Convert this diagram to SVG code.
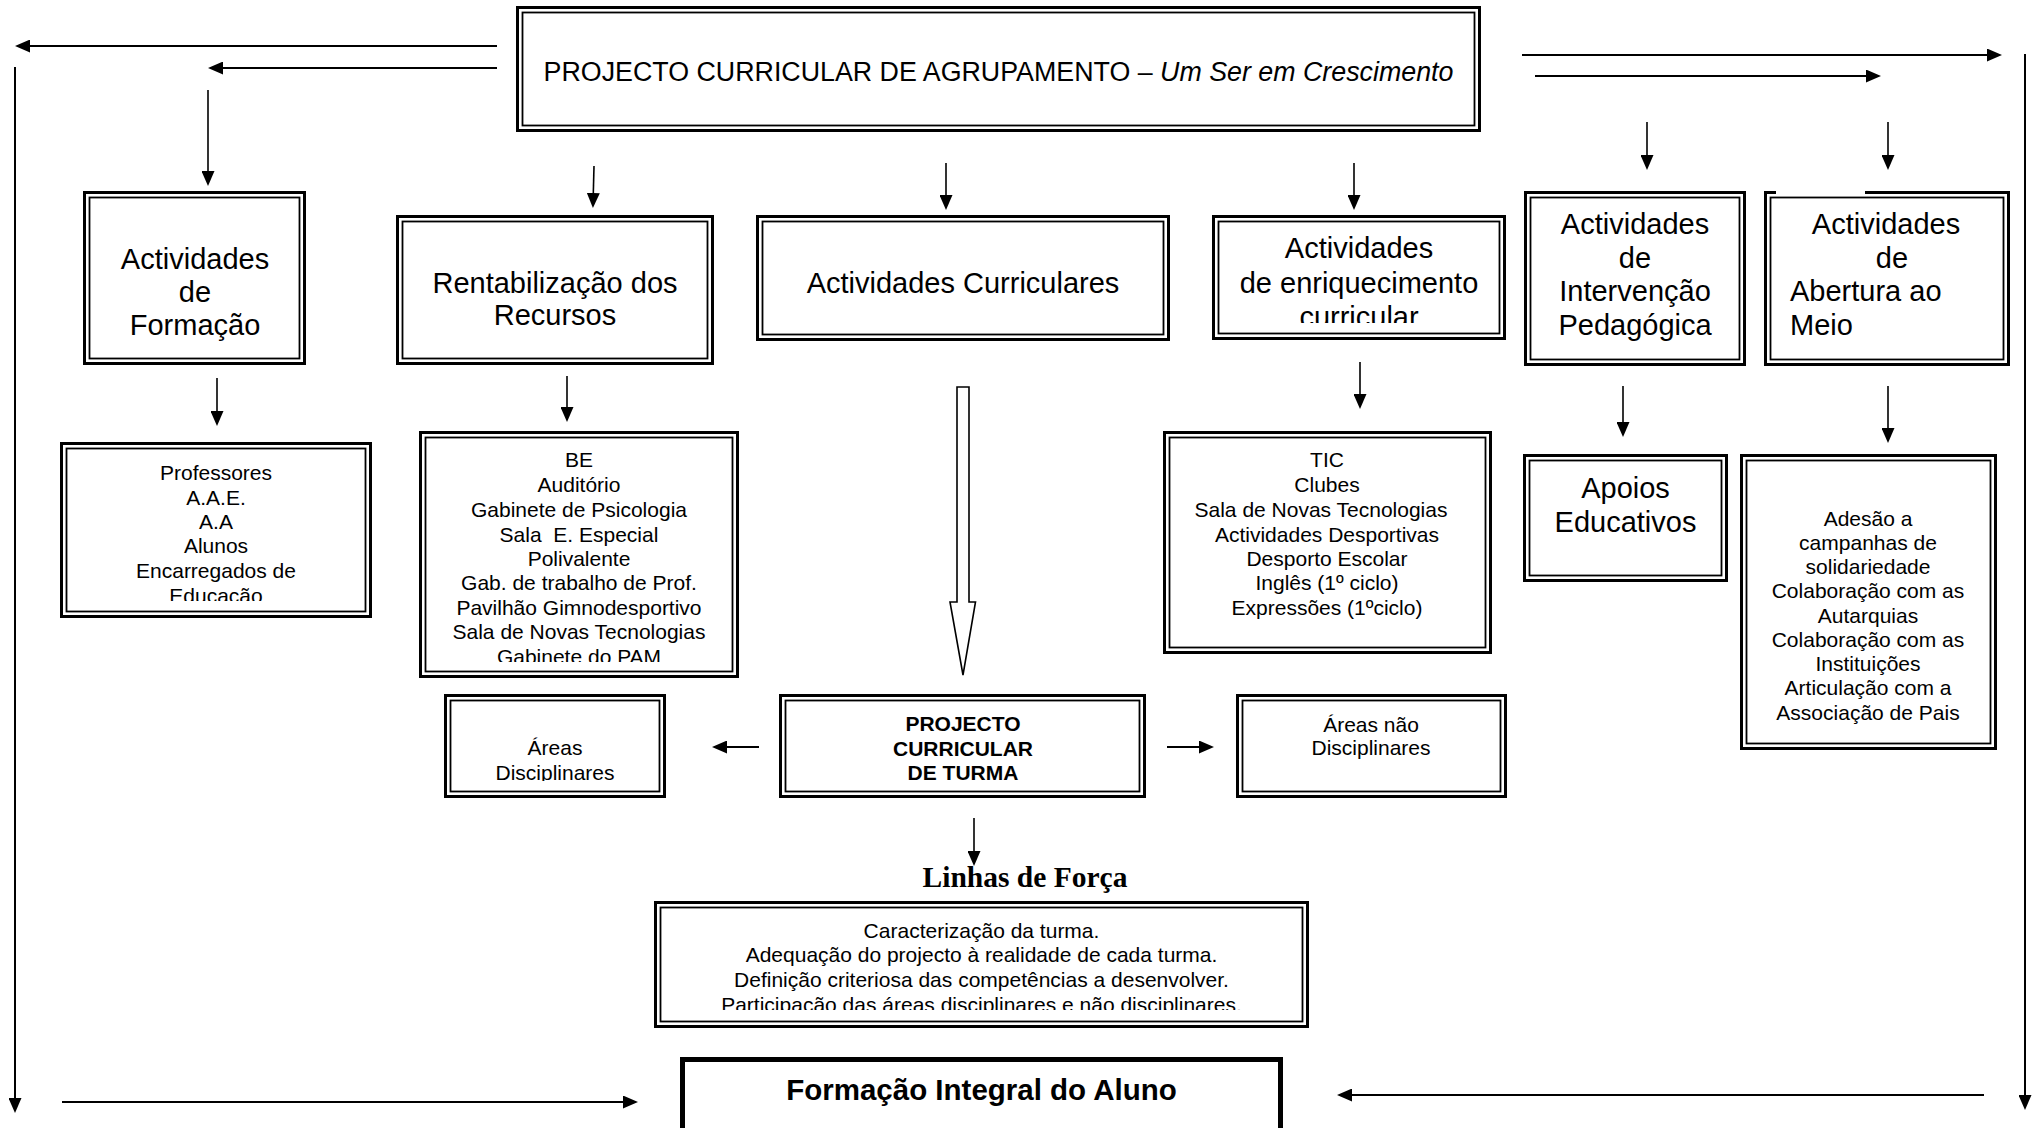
<svg xmlns="http://www.w3.org/2000/svg" width="2038" height="1128" viewBox="0 0 2038 1128">
<style>
.o{fill:none;stroke:#000;stroke-width:3}
.i{fill:none;stroke:#000;stroke-width:1.8}
.h{font-family:"Liberation Sans",Arial,sans-serif;font-size:29px;fill:#000;text-anchor:middle}
.l{font-family:"Liberation Sans",Arial,sans-serif;font-size:21px;fill:#000;text-anchor:middle}
.b{font-family:"Liberation Sans",Arial,sans-serif;font-size:21px;font-weight:bold;fill:#000;text-anchor:middle}
.c{fill:none;stroke:#000;stroke-width:2}
.t{fill:none;stroke:#000;stroke-width:1.6}
</style>
<defs>
<marker id="ah" markerUnits="userSpaceOnUse" markerWidth="15" markerHeight="13" refX="12" refY="6.5" orient="auto">
<path d="M0,0 L15,6.5 L0,13 z" fill="#000"/>
</marker>
<clipPath id="cpEnr"><rect x="1212" y="215" width="294" height="108"/></clipPath>
<clipPath id="cpProf"><rect x="60" y="442" width="312" height="159"/></clipPath>
<clipPath id="cpBe"><rect x="419" y="431" width="320" height="231"/></clipPath>
<clipPath id="cpAr"><rect x="444" y="694" width="222" height="87"/></clipPath>
<clipPath id="cpLin"><rect x="654" y="901" width="655" height="109"/></clipPath>
</defs>

<g id="connectors">
<line class="c" x1="497" y1="46" x2="18" y2="46" marker-end="url(#ah)"/>
<line class="c" x1="497" y1="68" x2="211" y2="68" marker-end="url(#ah)"/>
<line class="c" x1="1522" y1="55" x2="1999" y2="55" marker-end="url(#ah)"/>
<line class="c" x1="1535" y1="76" x2="1878" y2="76" marker-end="url(#ah)"/>
<line class="c" x1="15" y1="67" x2="15" y2="1110" marker-end="url(#ah)"/>
<line class="c" x1="2025" y1="54" x2="2025" y2="1107" marker-end="url(#ah)"/>
<line class="t" x1="208" y1="90" x2="208" y2="183" marker-end="url(#ah)"/>
<line class="t" x1="594" y1="166" x2="593" y2="205" marker-end="url(#ah)"/>
<line class="t" x1="946" y1="163" x2="946" y2="207" marker-end="url(#ah)"/>
<line class="t" x1="1354" y1="163" x2="1354" y2="207" marker-end="url(#ah)"/>
<line class="t" x1="1647" y1="122" x2="1647" y2="167" marker-end="url(#ah)"/>
<line class="t" x1="1888" y1="122" x2="1888" y2="167" marker-end="url(#ah)"/>
<line class="t" x1="217" y1="378" x2="217" y2="423" marker-end="url(#ah)"/>
<line class="t" x1="567" y1="376" x2="567" y2="419" marker-end="url(#ah)"/>
<line class="t" x1="1360" y1="362" x2="1360" y2="406" marker-end="url(#ah)"/>
<line class="t" x1="1623" y1="386" x2="1623" y2="434" marker-end="url(#ah)"/>
<line class="t" x1="1888" y1="386" x2="1888" y2="440" marker-end="url(#ah)"/>
<line class="c" x1="759" y1="747" x2="715" y2="747" marker-end="url(#ah)"/>
<line class="c" x1="1167" y1="747" x2="1211" y2="747" marker-end="url(#ah)"/>
<line class="t" x1="974" y1="818" x2="974" y2="863" marker-end="url(#ah)"/>
<line class="c" x1="62" y1="1102" x2="635" y2="1102" marker-end="url(#ah)"/>
<line class="c" x1="1984" y1="1095" x2="1340" y2="1095" marker-end="url(#ah)"/>
<polygon points="957,387 969,387 969,602 975.5,602 963,675 950,602 957,602" fill="#fff" stroke="#000" stroke-width="1.6"/>
</g>

<g id="top">
<rect class="o" x="517.5" y="7.5" width="962" height="123"/>
<rect class="i" x="522.5" y="12.5" width="952" height="113"/>
<text class="h" x="998.5" y="81" style="font-size:26.8px">PROJECTO CURRICULAR DE AGRUPAMENTO – <tspan font-style="italic">Um Ser em Crescimento</tspan></text>
</g>

<g id="formacao">
<rect class="o" x="84.5" y="192.5" width="220" height="171"/>
<rect class="i" x="89.5" y="197.5" width="210" height="161"/>
<text class="h" x="195"><tspan x="195" y="269">Actividades</tspan><tspan x="195" y="302">de</tspan><tspan x="195" y="335">Formação</tspan></text>
</g>

<g id="rentabilizacao">
<rect class="o" x="397.5" y="216.5" width="315" height="147"/>
<rect class="i" x="402.5" y="221.5" width="305" height="137"/>
<text class="h"><tspan x="555" y="293">Rentabilização dos</tspan><tspan x="555" y="325">Recursos</tspan></text>
</g>

<g id="curriculares">
<rect class="o" x="757.5" y="216.5" width="411" height="123"/>
<rect class="i" x="762.5" y="221.5" width="401" height="113"/>
<text class="h" x="963" y="293">Actividades Curriculares</text>
</g>

<g id="enriquecimento">
<rect class="o" x="1213.5" y="216.5" width="291" height="122"/>
<rect class="i" x="1218.5" y="221.5" width="281" height="112"/>
<text class="h" clip-path="url(#cpEnr)"><tspan x="1359" y="258">Actividades</tspan><tspan x="1359" y="293">de enriquecimento</tspan><tspan x="1359" y="327">curricular</tspan></text>
</g>

<g id="intervencao">
<rect class="o" x="1525.5" y="192.5" width="219" height="172"/>
<rect class="i" x="1530.5" y="197.5" width="209" height="162"/>
<text class="h"><tspan x="1635" y="234">Actividades</tspan><tspan x="1635" y="268">de</tspan><tspan x="1635" y="301">Intervenção</tspan><tspan x="1635" y="335">Pedagógica</tspan></text>
</g>

<g id="abertura">
<path class="o" d="M1776,192.5 H1765.5 V364.5 H2008.5 V192.5 H1865"/>
<rect class="i" x="1770.5" y="197.5" width="233" height="162"/>
<text class="h"><tspan x="1886" y="234">Actividades</tspan><tspan x="1892" y="268">de</tspan><tspan x="1790" y="301" text-anchor="start">Abertura ao</tspan><tspan x="1790" y="335" text-anchor="start">Meio</tspan></text>
</g>

<g id="professores">
<rect class="o" x="61.5" y="443.5" width="309" height="173"/>
<rect class="i" x="66.5" y="448.5" width="299" height="163"/>
<text class="l" clip-path="url(#cpProf)"><tspan x="216" y="480">Professores</tspan><tspan x="216" y="504.5">A.A.E.</tspan><tspan x="216" y="529">A.A</tspan><tspan x="216" y="553">Alunos</tspan><tspan x="216" y="578">Encarregados de</tspan><tspan x="216" y="602.5">Educação</tspan></text>
</g>

<g id="recursos">
<rect class="o" x="420.5" y="432.5" width="317" height="244"/>
<rect class="i" x="425.5" y="437.5" width="307" height="234"/>
<text class="l" clip-path="url(#cpBe)" xml:space="preserve"><tspan x="579" y="467">BE</tspan><tspan x="579" y="492">Auditório</tspan><tspan x="579" y="517">Gabinete de Psicologia</tspan><tspan x="579" y="542">Sala  E. Especial</tspan><tspan x="579" y="566">Polivalente</tspan><tspan x="579" y="590">Gab. de trabalho de Prof.</tspan><tspan x="579" y="615">Pavilhão Gimnodesportivo</tspan><tspan x="579" y="639">Sala de Novas Tecnologias</tspan><tspan x="579" y="663.5">Gabinete do PAM</tspan></text>
</g>

<g id="tic">
<rect class="o" x="1164.5" y="432.5" width="326" height="220"/>
<rect class="i" x="1169.5" y="437.5" width="316" height="210"/>
<text class="l"><tspan x="1327" y="467">TIC</tspan><tspan x="1327" y="492">Clubes</tspan><tspan x="1321" y="517">Sala de Novas Tecnologias</tspan><tspan x="1327" y="542">Actividades Desportivas</tspan><tspan x="1327" y="566">Desporto Escolar</tspan><tspan x="1327" y="590">Inglês (1º ciclo)</tspan><tspan x="1327" y="615">Expressões (1ºciclo)</tspan></text>
</g>

<g id="apoios">
<rect class="o" x="1524.5" y="455.5" width="202" height="125"/>
<rect class="i" x="1529.5" y="460.5" width="192" height="115"/>
<text class="h"><tspan x="1625.5" y="498">Apoios</tspan><tspan x="1625.5" y="532">Educativos</tspan></text>
</g>

<g id="abertura-lista">
<rect class="o" x="1741.5" y="455.5" width="254" height="293"/>
<rect class="i" x="1746.5" y="460.5" width="244" height="283"/>
<text class="l"><tspan x="1868" y="526">Adesão a</tspan><tspan x="1868" y="550">campanhas de</tspan><tspan x="1868" y="574">solidariedade</tspan><tspan x="1868" y="598">Colaboração com as</tspan><tspan x="1868" y="623">Autarquias</tspan><tspan x="1868" y="647">Colaboração com as</tspan><tspan x="1868" y="671">Instituições</tspan><tspan x="1868" y="695">Articulação com a</tspan><tspan x="1868" y="720">Associação de Pais</tspan></text>
</g>

<g id="areas-disciplinares">
<rect class="o" x="445.5" y="695.5" width="219" height="101"/>
<rect class="i" x="450.5" y="700.5" width="209" height="91"/>
<text class="l" clip-path="url(#cpAr)"><tspan x="555" y="755">Áreas</tspan><tspan x="555" y="780">Disciplinares</tspan></text>
</g>

<g id="projecto-turma">
<rect class="o" x="780.5" y="695.5" width="364" height="101"/>
<rect class="i" x="785.5" y="700.5" width="354" height="91"/>
<text class="b"><tspan x="963" y="731">PROJECTO</tspan><tspan x="963" y="756">CURRICULAR</tspan><tspan x="963" y="780">DE TURMA</tspan></text>
</g>

<g id="areas-nao-disciplinares">
<rect class="o" x="1237.5" y="695.5" width="268" height="101"/>
<rect class="i" x="1242.5" y="700.5" width="258" height="91"/>
<text class="l"><tspan x="1371" y="732">Áreas não</tspan><tspan x="1371" y="755">Disciplinares</tspan></text>
</g>

<g id="linhas-titulo">
<text x="1025" y="887" style="font-family:'Liberation Serif','Times New Roman',serif;font-size:29.5px;font-weight:bold;text-anchor:middle">Linhas de Força</text>
</g>

<g id="linhas">
<rect class="o" x="655.5" y="902.5" width="652" height="124"/>
<rect class="i" x="660.5" y="907.5" width="642" height="114"/>
<text class="l" clip-path="url(#cpLin)"><tspan x="981.5" y="938">Caracterização da turma.</tspan><tspan x="981.5" y="962">Adequação do projecto à realidade de cada turma.</tspan><tspan x="981.5" y="987">Definição criteriosa das competências a desenvolver.</tspan><tspan x="981.5" y="1011.5">Participação das áreas disciplinares e não disciplinares.</tspan></text>
</g>

<g id="formacao-integral">
<rect x="682.5" y="1059.5" width="598" height="80" fill="none" stroke="#000" stroke-width="5"/>
<text class="b" x="981.5" y="1100" style="font-size:29.5px">Formação Integral do Aluno</text>
</g>
</svg>
